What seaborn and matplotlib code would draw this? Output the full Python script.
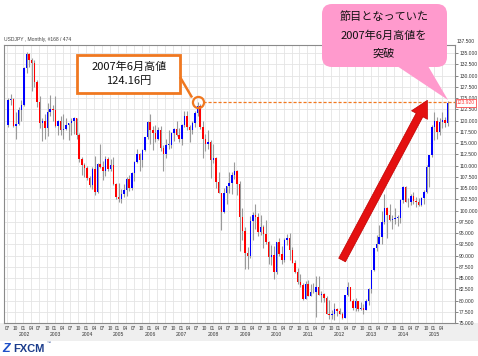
import matplotlib
matplotlib.use("Agg")
import matplotlib.pyplot as plt
import matplotlib.transforms as mtransforms
from matplotlib.patches import FancyBboxPatch, Polygon, Rectangle
import numpy as np
import pandas as pd
import seaborn as sns

# ===================== データ (USDJPY 月足 2001/06 - 2015/05) =====================
start_month = "2001-06"
opens = [
    119.0, 124.6, 124.9, 118.8, 119.3, 122.4, 123.5,
    131.7, 134.7, 133.5, 132.7, 128.5, 124.1, 119.5, 119.9, 118.4, 121.8, 122.5, 122.4,
    118.8, 119.9, 117.8, 118.1, 119.0, 119.4, 119.8, 120.5, 116.9, 111.4, 110.2, 109.5,
    107.2, 105.7, 109.2, 104.2, 110.4, 109.6, 108.8, 111.4, 109.3, 110.2, 105.8, 103.1,
    102.6, 103.6, 104.5, 107.1, 104.9, 108.4, 110.9, 112.5, 111.2, 113.5, 116.3, 119.6,
    117.9, 117.2, 115.9, 117.8, 113.8, 112.5, 114.5, 114.6, 117.3, 118.1, 116.9, 115.8,
    119.0, 121.0, 118.5, 117.8, 119.4, 121.7, 123.2, 118.6, 115.8, 114.8, 115.3, 111.2,
    111.7, 106.4, 103.9, 99.7, 103.9, 105.5, 106.2, 108.0, 108.7, 106.0, 98.5, 95.5,
    90.6, 89.9, 97.6, 98.9, 98.6, 95.3, 96.4, 94.7, 93.0, 89.7, 90.2, 86.4,
    93.0, 90.3, 88.9, 93.5, 94.0, 91.3, 88.4, 86.4, 84.2, 83.5, 80.4, 83.7,
    81.1, 82.0, 81.8, 83.1, 81.2, 81.5, 80.5, 77.0, 76.7, 77.0, 78.2, 77.6,
    76.9, 76.2, 81.2, 82.9, 80.0, 78.4, 79.8, 78.1, 78.4, 77.9, 79.8, 82.5,
    86.7, 91.7, 92.6, 94.2, 97.4, 100.5, 99.1, 97.9, 98.2, 98.3, 98.4, 102.4,
    105.3, 102.0, 101.8, 103.2, 102.2, 101.8, 101.3, 102.8, 104.1, 109.7, 112.3, 118.6,
    119.8, 117.5, 119.6, 120.1, 119.4,
]
highs = [
    125.0, 126.0, 125.0, 122.0, 123.0, 124.5, 131.8,
    135.2, 135.0, 134.0, 133.5, 129.0, 125.5, 120.5, 121.4, 124.0, 125.7, 123.5, 125.5,
    120.2, 121.0, 121.4, 120.6, 119.5, 120.5, 120.7, 120.6, 117.2, 111.8, 110.5, 109.8,
    107.6, 109.7, 112.2, 110.5, 114.9, 111.0, 112.1, 112.0, 111.5, 111.8, 106.1, 106.2,
    104.8, 106.0, 107.5, 108.0, 108.6, 111.0, 113.7, 112.8, 113.7, 116.4, 120.0, 121.4,
    118.9, 119.0, 118.6, 118.7, 114.5, 116.0, 117.8, 117.4, 118.3, 119.9, 118.4, 119.3,
    122.2, 122.2, 119.0, 120.0, 122.2, 124.16, 123.7, 119.8, 117.1, 117.9, 115.6, 114.7,
    112.0, 108.6, 104.0, 105.0, 105.5, 108.6, 108.6, 110.7, 109.0, 106.5, 100.5, 96.3,
    91.8, 98.8, 99.7, 101.4, 99.5, 98.9, 96.7, 97.8, 93.3, 92.3, 92.2, 93.1,
    93.8, 92.1, 93.8, 94.8, 94.9, 92.0, 88.9, 87.3, 86.0, 83.8, 84.4, 84.5,
    83.7, 84.0, 85.5, 85.5, 82.2, 81.6, 81.1, 80.2, 77.9, 79.5, 78.4, 78.3,
    77.4, 81.2, 84.2, 83.1, 80.4, 80.6, 79.9, 79.7, 79.2, 80.4, 82.8, 86.7,
    91.7, 94.5, 96.7, 99.9, 103.7, 100.8, 101.5, 99.1, 100.6, 99.0, 102.6, 105.4,
    105.4, 102.8, 103.7, 104.1, 103.0, 102.8, 103.1, 104.5, 110.1, 112.4, 119.0, 121.8,
    120.8, 120.5, 122.0, 120.8, 124.3,
]
lows = [
    118.5, 123.5, 118.5, 115.8, 119.0, 120.0, 123.2,
    130.5, 132.0, 126.5, 127.5, 123.1, 118.4, 115.5, 116.0, 116.5, 121.0, 119.8, 118.5,
    116.8, 116.7, 116.0, 118.0, 115.6, 116.7, 117.0, 116.0, 110.8, 108.0, 107.5, 106.7,
    105.2, 104.8, 103.4, 103.8, 109.5, 106.9, 107.7, 108.8, 108.8, 105.6, 102.5, 101.8,
    101.7, 103.0, 103.3, 104.3, 104.6, 106.6, 110.5, 108.8, 109.6, 113.2, 116.0, 114.9,
    113.4, 115.3, 115.7, 113.2, 108.9, 111.7, 113.6, 113.9, 115.5, 116.5, 115.2, 114.5,
    118.5, 117.9, 115.2, 117.0, 118.5, 121.0, 118.2, 111.6, 113.3, 113.6, 107.2, 110.5,
    104.9, 103.8, 95.7, 99.5, 101.4, 104.0, 103.7, 107.0, 103.5, 90.9, 93.5, 87.1,
    87.1, 89.4, 93.5, 96.0, 94.4, 94.6, 91.7, 92.5, 88.2, 88.0, 84.8, 86.0,
    89.8, 88.1, 88.5, 92.3, 88.9, 88.4, 86.1, 83.6, 82.9, 80.2, 80.3, 80.9,
    81.0, 81.6, 76.3, 81.3, 79.6, 79.7, 77.0, 75.9, 75.9, 75.6, 76.6, 76.9,
    76.0, 76.1, 80.9, 79.8, 78.0, 77.7, 77.7, 78.0, 77.1, 77.9, 79.0, 81.7,
    86.6, 90.9, 92.6, 92.6, 97.0, 93.8, 97.7, 95.8, 96.9, 96.6, 97.2, 101.6,
    101.8, 100.8, 101.2, 101.4, 100.8, 101.1, 101.1, 101.5, 103.8, 105.2, 112.0, 115.6,
    115.9, 116.9, 118.3, 118.5, 118.9,
]
closes = [
    124.6, 124.9, 118.8, 119.3, 122.4, 123.5, 131.7,
    134.7, 133.5, 132.7, 128.5, 124.1, 119.5, 119.9, 118.4, 121.8, 122.5, 122.4, 118.8,
    119.9, 117.8, 118.1, 119.0, 119.4, 119.8, 120.5, 116.9, 111.4, 110.2, 109.5, 107.2,
    105.7, 109.2, 104.2, 110.4, 109.6, 108.8, 111.4, 109.3, 110.2, 105.8, 103.1, 102.6,
    103.6, 104.5, 107.1, 104.9, 108.4, 110.9, 112.5, 111.2, 113.5, 116.3, 119.6, 117.9,
    117.2, 115.9, 117.8, 113.8, 112.5, 114.5, 114.6, 117.3, 118.1, 116.9, 115.8, 119.0,
    121.0, 118.5, 117.8, 119.4, 121.7, 123.2, 118.6, 115.8, 114.8, 115.3, 111.2, 111.7,
    106.4, 103.9, 99.7, 103.9, 105.5, 106.2, 108.0, 108.7, 106.0, 98.5, 95.5, 90.6,
    89.9, 97.6, 98.9, 98.6, 95.3, 96.4, 94.7, 93.0, 89.7, 90.2, 86.4, 93.0,
    90.3, 88.9, 93.5, 94.0, 91.3, 88.4, 86.4, 84.2, 83.5, 80.4, 83.7, 81.1,
    82.0, 81.8, 83.1, 81.2, 81.5, 80.5, 77.0, 76.7, 77.0, 78.2, 77.6, 76.9,
    76.2, 81.2, 82.9, 80.0, 78.4, 79.8, 78.1, 78.4, 77.9, 79.8, 82.5, 86.7,
    91.7, 92.6, 94.2, 97.4, 100.5, 99.1, 97.9, 98.2, 98.3, 98.4, 102.4, 105.3,
    102.0, 101.8, 103.2, 102.2, 101.8, 101.3, 102.8, 104.1, 109.7, 112.3, 118.6, 119.8,
    117.5, 119.6, 120.1, 119.4, 123.92,
]

peak_month = "2007-06"
peak_value = 124.16
last_price = 123.92
y_ticks = np.arange(75.0, 135.01, 2.5)
chart_title = "USDJPY , Monthly, #168 / 474"
box_text = "2007年6月高値\n124.16円"
bubble_lines = ["節目となっていた", "2007年6月高値を", "突破"]

df = pd.DataFrame({"open": opens, "high": highs, "low": lows, "close": closes},
                  index=pd.period_range(start_month, periods=len(closes), freq="M"))
df["i"] = np.arange(len(df))
df["up"] = df["close"] >= df["open"]

# ===================== スタイル =====================
sns.set_theme(style="whitegrid")
plt.rcParams["font.family"] = ["Liberation Sans", "Noto Sans CJK JP", "DejaVu Sans"]
jp = ["Noto Sans CJK JP", "DejaVu Sans"]

W, H = 478, 356
fig = plt.figure(figsize=(W / 100, H / 100), dpi=100)
fig.patch.set_facecolor("white")
fig.patches.append(Rectangle((0, (H - 341) / H), 1, 18 / H, transform=fig.transFigure,
                             facecolor="#EFEFEF", edgecolor="none", zorder=-5))

ax = fig.add_axes([4 / W, 33 / H, 451 / W, 278 / H])
ax.set_facecolor("white")

# ===================== ローソク足 =====================
ax.vlines(df["i"], df["low"], df["high"], color="#9A9A9A", lw=0.8, zorder=2)
body_bottom = df[["open", "close"]].min(axis=1)
body_h = (df["close"] - df["open"]).abs().clip(lower=0.2)
colors = np.where(df["up"], "#0000FF", "#FF0000")
ax.bar(df["i"], body_h, bottom=body_bottom, width=0.55, color=colors, lw=0, zorder=3)

ax.set_xlim(-1.55, 169.8)
ax.set_ylim(75.0, 136.8)

# 軸
q = df[df.index.month.isin([1, 4, 7, 10])]
ax.set_xticks(q["i"] - 1.3)
ax.set_xticklabels([f"{m:02d}" for m in q.index.month], fontsize=3.4, color="#333333")
ax.tick_params(axis="x", length=1.5, pad=0.8, color="#E08080", width=0.5)
ax.yaxis.tick_right()
ax.set_yticks(y_ticks)
ax.set_yticklabels([f"{v:.3f}" for v in y_ticks], fontsize=3.6, color="#333333")
ax.tick_params(axis="y", length=2, pad=1, color="#555555", width=0.5)
ax.text(1.004, 137.5, "137.500", transform=mtransforms.blended_transform_factory(ax.transAxes, ax.transData),
        fontsize=3.6, color="#333333", va="center", ha="left", clip_on=False)

jan = df[df.index.month == 1]
for i, yr in zip(jan["i"], jan.index.year):
    ax.text(i - 1.0, -0.04, str(yr), transform=mtransforms.blended_transform_factory(ax.transData, ax.transAxes),
            fontsize=3.6, color="#333333", ha="center", va="center")

ax.grid(True, color="#E4E4E4", lw=0.6)
for s in ax.spines.values():
    s.set_color("#8A8A8A")
    s.set_linewidth(0.8)

ax.text(0.0, 1.012, chart_title, transform=ax.transAxes, fontsize=3.6, color="#444444", ha="left", va="bottom")

# ===================== 注釈 =====================
peak_i = df.loc[pd.Period(peak_month, "M"), "i"]
ax.hlines(peak_value, peak_i + 2, 169.8, color="#F07820", lw=0.9, ls=(0, (2.5, 1.5)), zorder=4)
ax.plot([peak_i], [peak_value], marker="o", ms=8, mfc="none", mec="#F07820", mew=1.6, zorder=5)
ax.text(1.004, last_price, f"{last_price:.3f}", transform=mtransforms.blended_transform_factory(ax.transAxes, ax.transData),
        fontsize=3.6, color="#FF4040", va="center", ha="left", clip_on=False,
        bbox=dict(boxstyle="square,pad=0.25", fc="white", ec="#FF5050", lw=0.6))

ax.annotate("", xy=(159.3, 124.5), xytext=(126.9, 89.0),
            arrowprops=dict(width=5.5, headwidth=13, headlength=12, fc="#E41010", ec="#C00000", lw=0.5),
            zorder=6)

# ピクセル座標のオーバーレイ
ov = fig.add_axes([0, 0, 1, 1], zorder=5)
ov.set_xlim(0, W)
ov.set_ylim(H, 0)
ov.axis("off")

ov.add_patch(Rectangle((77, 55), 103, 38, fc="white", ec="#F07820", lw=2))
ov.plot([180, 192], [77, 97.5], color="#F07820", lw=1.8, solid_capstyle="butt")
ov.text(129, 74, box_text, family=jp, fontsize=8, ha="center", va="center", linespacing=1.45, color="#111111")

pink = "#FF9ACD"
ov.add_patch(FancyBboxPatch((322, 4), 125, 63, boxstyle="round,pad=0,rounding_size=10", fc=pink, ec="none"))
ov.add_patch(Polygon([(397, 66), (428, 66), (448, 100)], closed=True, fc=pink, ec="none"))
for y, line in zip([17, 35.5, 53.5], bubble_lines):
    ov.text(384, y, line, family=jp, fontsize=8, ha="center", va="center", color="#111111")

# FXCM ロゴ
ov.text(2, 349, "Z", fontsize=9, fontweight="bold", fontstyle="italic", color="#1E50C8", ha="left", va="center")
ov.text(13, 349, "FXCM", fontsize=8, fontweight="bold", color="#1B3C8C", ha="left", va="center")
ov.text(47, 343, "™", fontsize=3, color="#1B3C8C", ha="left", va="center")

plt.savefig("out.png", dpi=100)
plt.close()
